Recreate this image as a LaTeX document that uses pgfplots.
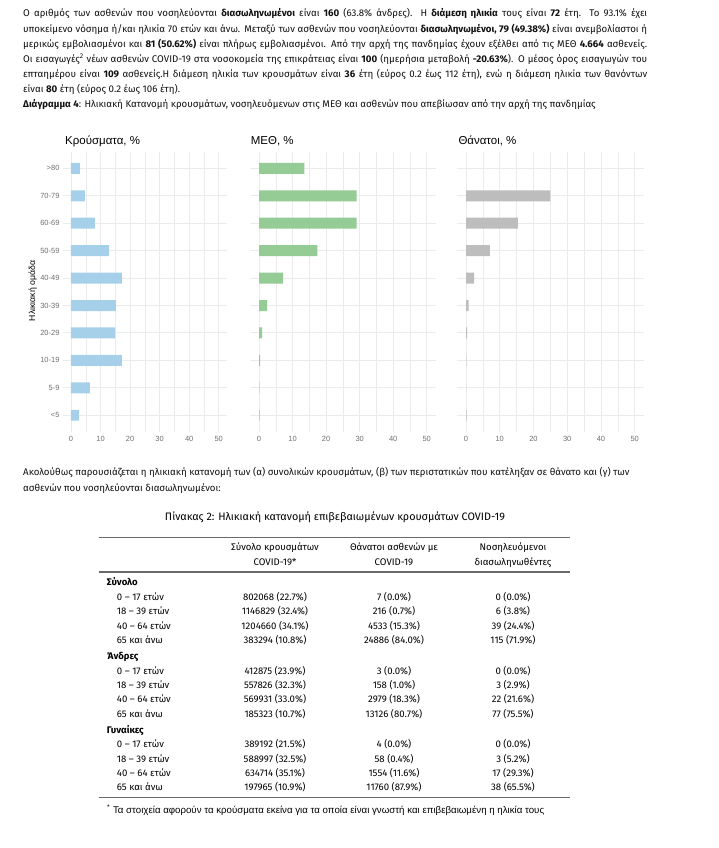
\documentclass[border=0pt]{standalone}
\usepackage{fontspec}
\setmainfont{Fira Sans}
\newfontfamily\chartfont{Liberation Sans}
\usepackage{pgfplots}
\pgfplotsset{compat=1.18}
\definecolor{barblue}{HTML}{A6D0EA}
\definecolor{bargreen}{HTML}{95CB95}
\definecolor{bargray}{HTML}{BDBDBD}
\definecolor{gridc}{HTML}{EBEBEB}
\definecolor{tickc}{HTML}{707070}
\definecolor{rulec}{HTML}{6A6A6A}
\definecolor{txt}{HTML}{111111}
\newcommand\ptext{\fontsize{9.7}{11}\selectfont}
\newcommand\tabfont{\fontsize{9.6}{11}\selectfont}
\newcommand\pline[3]{\node[anchor=base west,inner sep=0pt,text=txt] at (#1pt,-#2pt) {\ptext\makebox[624pt][s]{#3}};}
\newcommand\nline[3]{\node[anchor=base west,inner sep=0pt,text=txt] at (#1pt,-#2pt) {\ptext #3};}
\newcommand\trow[5]{%
 \node[anchor=base west,inner sep=0pt] at (116.7pt,-#1pt) {\tabfont #2};
 \node[anchor=base,inner sep=0pt] at (275pt,-#1pt) {\tabfont #3};
 \node[anchor=base,inner sep=0pt] at (394pt,-#1pt) {\tabfont #4};
 \node[anchor=base,inner sep=0pt] at (513pt,-#1pt) {\tabfont #5};}
\newcommand\tgroup[2]{\node[anchor=base west,inner sep=0pt] at (106.7pt,-#1pt) {\tabfont\textbf{#2}};}
\pgfplotsset{panel/.style={
  scale only axis, height=279.8pt, ymin=0.4, ymax=10.6, xmin=-2.7, xmax=52.7,
  anchor=north west,
  axis line style={draw=none}, major tick length=0pt, minor tick length=0pt,
  xtick={0,10,...,50}, minor xtick={5,15,...,45},
  ytick={1,...,10},
  xmajorgrids, xminorgrids, ymajorgrids,
  major grid style={gridc, line width=0.9pt},
  minor grid style={gridc, line width=0.5pt},
  tick label style={font=\chartfont\fontsize{7.5}{9}\selectfont, text=tickc},
  xticklabel style={yshift=-1pt},
  /pgf/number format/assume math mode=true,
}}
\begin{document}
\begin{tikzpicture}
\fill[white] (0,0) rectangle (719pt,-848pt);
\useasboundingbox (0,0) rectangle (719pt,-848pt);
% paragraph
\pline{23}{17}{Ο αριθμός των ασθενών που νοσηλεύονται \textbf{διασωληνωμένοι} είναι \textbf{160} (63.8\% άνδρες).  Η \textbf{διάμεση ηλικία} τους είναι \textbf{72} έτη.  Το 93.1\% έχει}
\pline{23}{32.2}{υποκείμενο νόσημα ή/και ηλικία 70 ετών και άνω. Μεταξύ των ασθενών που νοσηλεύονται \textbf{διασωληνωμένοι, 79 (49.38\%)} είναι ανεμβολίαστοι ή}
\pline{23}{47.4}{μερικώς εμβολιασμένοι και \textbf{81 (50.62\%)} είναι πλήρως εμβολιασμένοι.  Από την αρχή της πανδημίας έχουν εξέλθει από τις ΜΕΘ \textbf{4.664} ασθενείς.}
\pline{23}{62.6}{Οι εισαγωγές\textsuperscript{2} νέων ασθενών COVID-19 στα νοσοκομεία της επικράτειας είναι \textbf{100} (ημερήσια μεταβολή \textbf{-20.63\%}). Ο μέσος όρος εισαγωγών του}
\pline{23}{77.8}{επταημέρου είναι \textbf{109} ασθενείς.Η διάμεση ηλικία των κρουσμάτων είναι \textbf{36} έτη (εύρος 0.2 έως 112 έτη), ενώ η διάμεση ηλικία των θανόντων}
\nline{23}{93}{είναι \textbf{80} έτη (εύρος 0.2 έως 106 έτη).}
\nline{23}{107.8}{\textbf{Διάγραμμα 4}: Ηλικιακή Κατανομή κρουσμάτων, νοσηλευόμενων στις ΜΕΘ και ασθενών που απεβίωσαν από την αρχή της πανδημίας}
% panel 1
\begin{axis}[panel, at={(63pt,-151.9pt)}, width=163.7pt,
  yticklabels={<5,5-9,10-19,20-29,30-39,40-49,50-59,60-69,70-79,>80}]
\addplot[xbar, bar width=0.4, fill=barblue, draw=none] coordinates {
(2.7,1) (6.4,2) (17.2,3) (14.9,4) (15.2,5) (17.2,6) (12.9,7) (8.1,8) (4.7,9) (3.0,10)};
\end{axis}
% panel 2
\begin{axis}[panel, at={(250pt,-151.9pt)}, width=185.8pt, yticklabels={}]
\addplot[xbar, bar width=0.4, fill=bargreen, draw=none] coordinates {
(0.2,1) (0.1,2) (0.3,3) (0.9,4) (2.4,5) (7.2,6) (17.4,7) (29.1,8) (29.1,9) (13.5,10)};
\end{axis}
% panel 3
\begin{axis}[panel, at={(456.9pt,-151.9pt)}, width=186.9pt, yticklabels={}]
\addplot[xbar, bar width=0.4, fill=bargray, draw=none] coordinates {
(0.15,1) (0,2) (0.1,3) (0.3,4) (0.8,5) (2.4,6) (7.1,7) (15.4,8) (25.0,9)};
\end{axis}
\node[anchor=base west,inner sep=0pt,font=\chartfont\fontsize{11.5}{12}\selectfont] at (65pt,-144.8pt) {Κρούσματα, \%};
\node[anchor=base west,inner sep=0pt,font=\chartfont\fontsize{11.5}{12}\selectfont] at (250.7pt,-144.8pt) {ΜΕΘ, \%};
\node[anchor=base west,inner sep=0pt,font=\chartfont\fontsize{11.5}{12}\selectfont] at (458.3pt,-144.8pt) {Θάνατοι, \%};
\node[rotate=90,inner sep=0pt,font=\chartfont\fontsize{8.7}{9}\selectfont] at (32.7pt,-291pt) {Ηλικιακή ομάδα};
% second paragraph
\nline{23}{475.5}{Ακολούθως παρουσιάζεται η ηλικιακή κατανομή των (α) συνολικών κρουσμάτων, (β) των περιστατικών που κατέληξαν σε θάνατο και (γ) των}
\nline{23}{491}{ασθενών που νοσηλεύονται διασωληνωμένοι:}
\node[anchor=base,inner sep=0pt] at (335pt,-520.5pt) {\fontsize{10.8}{12}\selectfont Πίνακας 2: Ηλικιακή κατανομή επιβεβαιωμένων κρουσμάτων COVID-19};
% table
\draw[rulec, line width=1.6pt] (99.3pt,-537.3pt) -- (570pt,-537.3pt);
\draw[rulec, line width=1.6pt] (99.3pt,-572pt) -- (570pt,-572pt);
\draw[rulec, line width=1.6pt] (99.3pt,-797.5pt) -- (570pt,-797.5pt);
\node[anchor=base,inner sep=0pt] at (275pt,-550.6pt) {\tabfont Σύνολο κρουσμάτων};
\node[anchor=base,inner sep=0pt] at (275pt,-565.6pt) {\tabfont COVID-19*};
\node[anchor=base,inner sep=0pt] at (394pt,-550.6pt) {\tabfont Θάνατοι ασθενών με};
\node[anchor=base,inner sep=0pt] at (394pt,-565.6pt) {\tabfont COVID-19};
\node[anchor=base,inner sep=0pt] at (513pt,-550.6pt) {\tabfont Νοσηλευόμενοι};
\node[anchor=base,inner sep=0pt] at (513pt,-565.6pt) {\tabfont διασωληνωθέντες};
\tgroup{585.6}{Σύνολο}
\trow{600.6}{0 – 17 ετών}{802068 (22.7\%)}{7 (0.0\%)}{0 (0.0\%)}
\trow{614.8}{18 – 39 ετών}{1146829 (32.4\%)}{216 (0.7\%)}{6 (3.8\%)}
\trow{629.2}{40 – 64 ετών}{1204660 (34.1\%)}{4533 (15.3\%)}{39 (24.4\%)}
\trow{643.4}{65 και άνω}{383294 (10.8\%)}{24886 (84.0\%)}{115 (71.9\%)}
\tgroup{659.3}{Άνδρες}
\trow{674.3}{0 – 17 ετών}{412875 (23.9\%)}{3 (0.0\%)}{0 (0.0\%)}
\trow{688.5}{18 – 39 ετών}{557826 (32.3\%)}{158 (1.0\%)}{3 (2.9\%)}
\trow{702.7}{40 – 64 ετών}{569931 (33.0\%)}{2979 (18.3\%)}{22 (21.6\%)}
\trow{717}{65 και άνω}{185323 (10.7\%)}{13126 (80.7\%)}{77 (75.5\%)}
\tgroup{733.3}{Γυναίκες}
\trow{747.6}{0 – 17 ετών}{389192 (21.5\%)}{4 (0.0\%)}{0 (0.0\%)}
\trow{762}{18 – 39 ετών}{588997 (32.5\%)}{58 (0.4\%)}{3 (5.2\%)}
\trow{776.3}{40 – 64 ετών}{634714 (35.1\%)}{1554 (11.6\%)}{17 (29.3\%)}
\trow{790.5}{65 και άνω}{197965 (10.9\%)}{11760 (87.9\%)}{38 (65.5\%)}
\node[anchor=base west,inner sep=0pt,font=\chartfont\fontsize{9.7}{10}\selectfont] at (107pt,-813.3pt) {\textsuperscript{*} Τα στοιχεία αφορούν τα κρούσματα εκείνα για τα οποία είναι γνωστή και επιβεβαιωμένη η ηλικία τους};
\end{tikzpicture}
\end{document}
